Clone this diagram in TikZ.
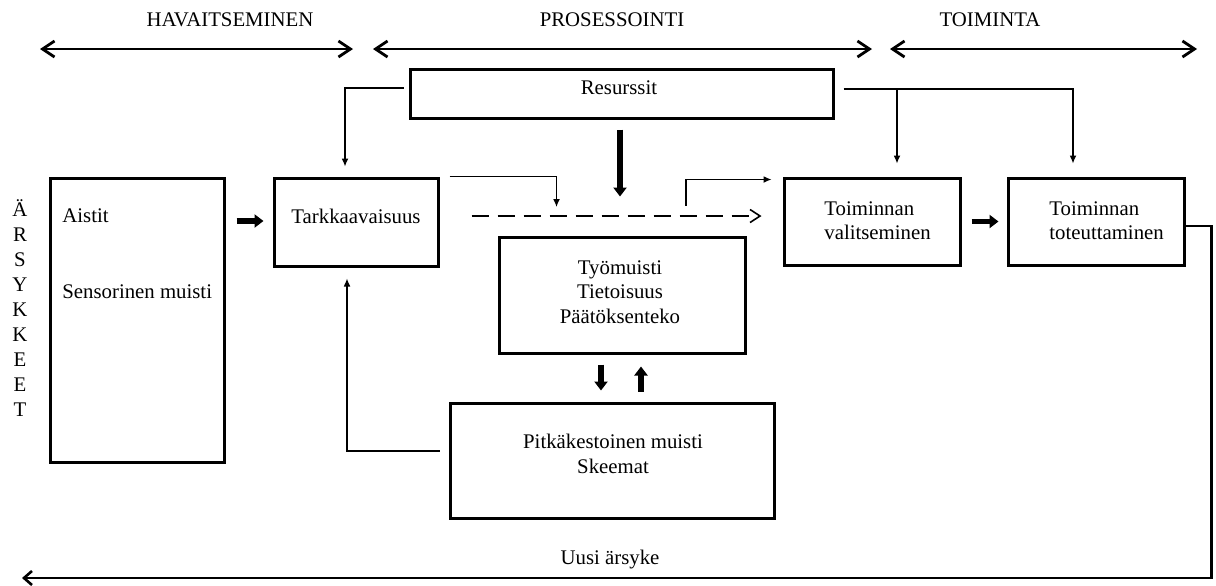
\documentclass[tikz,border=0pt]{standalone}
\usepackage{fontspec}
\setmainfont{Liberation Serif}
\usetikzlibrary{arrows.meta,calc,fit}
\begin{document}
\begin{tikzpicture}[x=0.5pt,y=-0.5pt,
  box/.style={draw,line width=1.5pt,inner sep=0pt},
  lbl/.style={inner sep=0pt,font=\fontsize{10.4}{12.4}\selectfont,align=center},
  thinarr/.style={line width=0.6pt,-{Latex[length=4pt,width=3.4pt]}},
  thickarr/.style={line width=2.8pt,-{Triangle[length=4.5pt,width=6.5pt]}},
  dblarr/.style={line width=1.4pt,{Straight Barb[length=6pt,width=8pt]}-{Straight Barb[length=6pt,width=8pt]}},
  dasharr/.style={line width=0.8pt,dash pattern=on 8.5pt off 4.5pt,-{Straight Barb[length=5pt,width=6.5pt]}},
  fbline/.style={line width=1.3pt,-{Straight Barb[length=4pt,width=7pt]}}
]
\useasboundingbox (0,0) rectangle (1216,585);

% header labels and double arrows
\node[lbl] (hav) at (230,20) {HAVAITSEMINEN};
\node[lbl] (pro) at (612,20) {PROSESSOINTI};
\node[lbl] (toi) at (990,20) {TOIMINTA};
\coordinate (h1) at (40,49);  \coordinate (h2) at (353,49);
\coordinate (p1) at (373,49); \coordinate (p2) at (872,49);
\coordinate (t1) at (890,49); \coordinate (t2) at (1197,49);
\draw[dblarr] (h1) -- (h2);
\draw[dblarr] (p1) -- (p2);
\draw[dblarr] (t1) -- (t2);

% boxes
\node[box,fit={(410,69) (833,118)}] (res) {};
\node[box,fit={(50,178) (224,462)}] (aistit) {};
\node[box,fit={(274,178) (438,266)}] (tark) {};
\node[box,fit={(499,237) (745,353)}] (tyo) {};
\node[box,fit={(450,403) (774,518)}] (pitka) {};
\node[box,fit={(784,178) (960,265)}] (valit) {};
\node[box,fit={(1008,178) (1184,265)}] (toteu) {};

% texts
\node[lbl] (tres) at (619,88) {Resurssit};
\node[lbl,anchor=west] (taistit) at (62,216) {Aistit};
\node[lbl,anchor=west] (tsens) at (62,292) {Sensorinen muisti};
\node[lbl] (ttark) at (356,216) {Tarkkaavaisuus};
\node[lbl,font=\fontsize{10.4}{12.2}\selectfont] (ttyo) at (620,292) {Työmuisti\\Tietoisuus\\Päätöksenteko};
\node[lbl,font=\fontsize{10.4}{12.5}\selectfont] (tpitka) at (613,454) {Pitkäkestoinen muisti\\Skeemat};
\node[lbl,align=left,anchor=west,font=\fontsize{10.4}{12}\selectfont] (tvalit) at (824,221) {Toiminnan\\valitseminen};
\node[lbl,align=left,anchor=west,font=\fontsize{10.4}{12}\selectfont] (ttoteu) at (1049,221) {Toiminnan\\toteuttaminen};
\node[lbl] (tuusi) at (610,560) {Uusi ärsyke};
\node[lbl,font=\fontsize{10.4}{12.45}\selectfont] (tars) at (20,308) {Ä\\R\\S\\Y\\K\\K\\E\\E\\T};

% connectors from Resurssit
\draw[thinarr] ($(res.west)+(-5,-5.5)$) -| ($(tark.north)+(-11,-10)$);
\coordinate (rr) at ($(res.east)+(9,-4.5)$);
\coordinate (tote) at ($(toteu.north)+(-23,-13)$);
\coordinate (vale) at ($(valit.north)+(25,-13)$);
\draw[thinarr] (rr) -| (tote);
\draw[thinarr] (rr -| vale) -- (vale);
\draw[thickarr] ($(res.south)+(-1.5,10)$) -- ($(tyo.north)+(-2,-39)$);

% main flow
\draw[thickarr] ($(aistit.east |- tark.center)+(11,-1)$) -- ($(tark.west)+(-9,-1)$);
\draw[thinarr] ($(tark.north east)+(10,0)$) -| ($(tark.east)+(117,-15)$);
\draw[dasharr] ($(tark.east)+(32,-6)$) -- ($(valit.west)+(-21,-5.5)$);
\draw[thinarr] ($(tyo.north)+(64,-30)$) |- ($(valit.north west)+(-11,3)$);
\draw[thickarr] ($(tyo.south)+(-21,10)$) -- ($(pitka.north)+(-11,-11)$);
\draw[thickarr] ($(pitka.north)+(29,-10)$) -- ($(tyo.south)+(19,12)$);
\draw[thinarr] ($(pitka.west)+(-9,-9.5)$) -| ($(tark.south)+(-9,11)$);
\draw[thickarr] ($(valit.east)+(10,0)$) -- ($(toteu.west)+(-8,0)$);

% feedback
\coordinate (fbend) at (22,578);
\draw[fbline] ($(toteu.east)+(0,4.5)$) -- ++(26,0) |- (fbend);
\end{tikzpicture}
\end{document}
